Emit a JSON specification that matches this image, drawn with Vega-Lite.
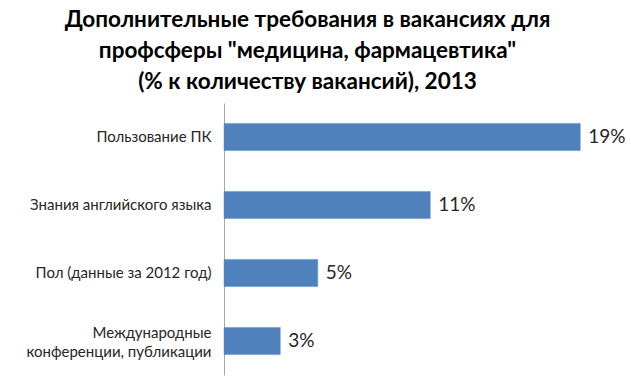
{
  "$schema": "https://vega.github.io/schema/vega-lite/v6.json",
  "width": 375,
  "height": 272,
  "autosize": "none",
  "padding": {"left": 224, "top": 103, "right": 32, "bottom": 5},
  "background": "white",
  "title": {
    "text": ["Дополнительные требования в вакансиях для", "профсферы \"медицина, фармацевтика\"", "(% к количеству вакансий), 2013"],
    "fontSize": 22.5,
    "font": "Lato",
    "fontWeight": "bold",
    "color": "#000000",
    "lineHeight": 31,
    "anchor": "middle",
    "dx": -104,
    "offset": 10
  },
  "data": {
    "values": [
      {"category": "Пользование ПК", "value": 19, "label": "19%"},
      {"category": "Знания английского языка", "value": 11, "label": "11%"},
      {"category": "Пол (данные за 2012 год)", "value": 5, "label": "5%"},
      {"category": "Международные конференции, публикации", "value": 3, "label": "3%"}
    ]
  },
  "config": {"view": {"stroke": null}, "font": "Lato"},
  "encoding": {
    "y": {
      "field": "category",
      "type": "nominal",
      "sort": null,
      "scale": {"paddingInner": 0.6, "paddingOuter": 0.3},
      "axis": {
        "title": null,
        "ticks": false,
        "domainColor": "#a6a6a6",
        "domainWidth": 1,
        "labelFontSize": 15,
        "labelColor": "#262626",
        "labelPadding": 13,
        "labelLimit": 300,
        "labelLineHeight": 19,
        "labelOffset": {"condition": {"test": "datum.value == 'Международные конференции, публикации'", "value": -8}, "value": 0},
        "labelExpr": "datum.label == 'Международные конференции, публикации' ? ['Международные', 'конференции, публикации'] : datum.label"
      }
    },
    "x": {
      "field": "value",
      "type": "quantitative",
      "scale": {"domain": [0, 20]},
      "axis": null
    }
  },
  "layer": [
    {"mark": {"type": "bar", "color": "#4F81BD", "stroke": "#5B8DC9", "strokeWidth": 0.5}},
    {
      "mark": {"type": "text", "align": "left", "dx": 8, "fontSize": 19, "color": "#262626", "font": "Lato"},
      "encoding": {"text": {"field": "label", "type": "nominal"}}
    }
  ]
}
